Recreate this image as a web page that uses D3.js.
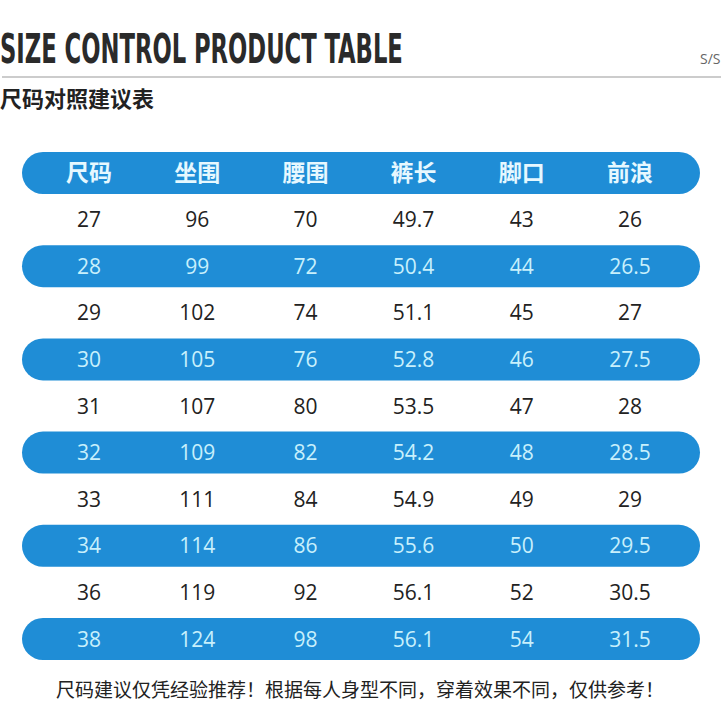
<!DOCTYPE html>
<html>
<head>
<meta charset="utf-8">
<script src="https://cdn.jsdelivr.net/npm/d3@7"></script>
<style>body{margin:0;background:#fff}</style>
</head>
<body>
<div id="viz"></div>
<script>
// table data
var headers = ["尺码", "坐围", "腰围", "裤长", "脚口", "前浪"];
var sizes = ["27", "28", "29", "30", "31", "32", "33", "34", "36", "38"];
var seat = ["96", "99", "102", "105", "107", "109", "111", "114", "119", "124"];
var waist = ["70", "72", "74", "76", "80", "82", "84", "86", "92", "98"];
var length = ["49.7", "50.4", "51.1", "52.8", "53.5", "54.2", "54.9", "55.6", "56.1", "56.1"];
var hem = ["43", "44", "45", "46", "47", "48", "49", "50", "52", "54"];
var rise = ["26", "26.5", "27", "27.5", "28", "28.5", "29", "29.5", "30.5", "31.5"];

var cols = [sizes, seat, waist, length, hem, rise];
var rows = sizes.map(function(s, i){ return cols.map(function(c){ return c[i]; }); });

var W = 721, H = 721;
var blue = "#1f8dd6";
var cjk = "'Noto Sans CJK SC', sans-serif";

var svg = d3.select("#viz").append("svg")
    .attr("width", W).attr("height", H);

var x = d3.scalePoint().domain(d3.range(6)).range([89, 630]);
var y = d3.scalePoint().domain(d3.range(11)).range([173, 639]);

// title
svg.append("text")
    .attr("x", 0).attr("y", 63)
    .attr("transform", "scale(0.615,1)")
    .style("font-family", "'DejaVu Sans Condensed', sans-serif")
    .style("font-weight", "bold").style("font-size", "41px")
    .style("fill", "#2a2a2a")
    .text("SIZE CONTROL PRODUCT TABLE");
svg.append("text").attr("x", 700).attr("y", 64)
    .style("font-family", "'Open Sans', sans-serif").style("font-size", "14px")
    .style("fill", "#666").text("S/S");
svg.append("line").attr("x1", 2).attr("x2", W).attr("y1", 77).attr("y2", 77)
    .style("stroke", "#ccc").style("stroke-width", 2);
svg.append("text").attr("x", 0).attr("y", 107)
    .style("font-family", cjk).style("font-weight", "bold").style("font-size", "22px")
    .style("fill", "#222").text("尺码对照建议表");

// blue pills: header and odd rows
var pillRows = [0].concat(d3.range(2, 11, 2));
svg.selectAll("rect.pill").data(pillRows).enter().append("rect")
    .attr("class", "pill")
    .attr("x", 22).attr("width", 678)
    .attr("y", function(d){ return y(d) - 21; }).attr("height", 42)
    .attr("rx", 21)
    .style("fill", blue);

// header
svg.selectAll("text.hd").data(headers).enter().append("text")
    .attr("class", "hd")
    .attr("x", function(d, i){ return x(i); }).attr("y", y(0))
    .attr("text-anchor", "middle").attr("dy", "0.36em")
    .style("font-family", cjk).style("font-weight", "bold").style("font-size", "23px")
    .style("fill", "#e6f8ff").text(function(d){ return d; });

// body
rows.forEach(function(r, i){
    var onBlue = (i % 2 == 1);
    svg.selectAll("text.r" + i).data(r).enter().append("text")
        .attr("x", function(d, j){ return x(j); }).attr("y", y(i + 1))
        .attr("text-anchor", "middle").attr("dy", "0.36em")
        .style("font-family", "'Open Sans', sans-serif").style("font-size", "21px")
        .style("fill", onBlue ? "#c8f0fc" : "#222")
        .text(function(d){ return d; });
});

// footnote
svg.append("text").attr("x", 360).attr("y", 697)
    .attr("text-anchor", "middle")
    .style("font-family", cjk).style("font-size", "19px").style("fill", "#222")
    .text("尺码建议仅凭经验推荐！根据每人身型不同，穿着效果不同，仅供参考！");
</script>
</body>
</html>
